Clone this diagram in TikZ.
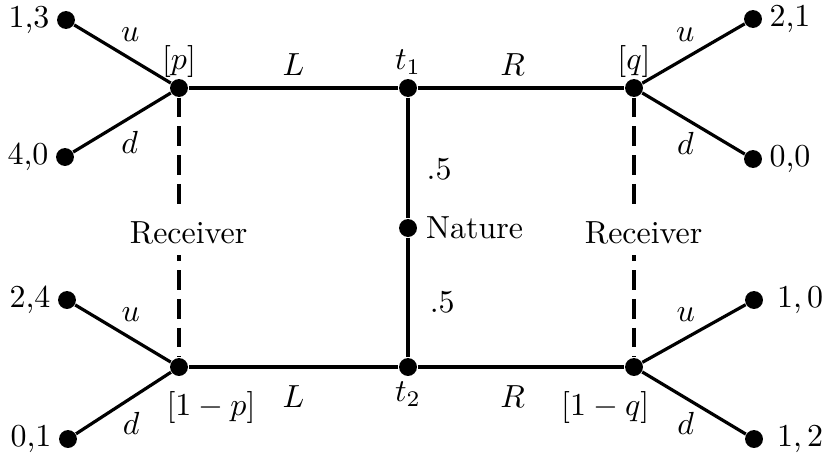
\documentclass[tikz,border=0pt]{standalone}
\usepackage{amsmath}
\usepackage{tikz}
\usetikzlibrary{positioning}

\begin{document}
\begin{tikzpicture}[
  x=0.011cm, y=-0.011cm,
  dot/.style={circle, fill=black, inner sep=0pt, minimum size=5.6pt},
  br/.style={line width=1pt},
  info/.style={line width=1.1pt, dash pattern=on 6.2pt off 2.8pt},
  every label/.style={inner sep=1pt},
  ulbl/.style={above=1.5pt, pos=.42},
  dlbl/.style={below=0.5pt, pos=.42},
]
\useasboundingbox (0,0) rectangle (830,459);
% sender types and nature
\node[dot, label={above:$t_1$}] (t1) at (408,88) {};
\node[dot, label={[label distance=1.5pt]right:Nature}] (nat) at (408,228) {};
\node[dot, label={[label distance=0.5pt]below:$t_2$}] (t2) at (408,367) {};
% receiver nodes
\node[dot, label={[label distance=-1pt]above:$[p]$}] (p1) at (179,88) {};
\node[dot, label={[label distance=-1pt]above:$[q]$}] (q1) at (634,88) {};
\node[dot, label={[xshift=10pt, yshift=-3.5pt]below:$[1-p]$}] (p2) at (179,367) {};
\node[dot, label={[xshift=-9pt, yshift=-3.5pt]below:$[1-q]$}] (q2) at (634,367) {};
% payoffs
\node[dot, label={[label distance=1pt]left:1,3}] (pu1) at (66,20) {};
\node[dot, label={[label distance=1pt]left:4,0}] (pd1) at (65,157) {};
\node[dot, label={[label distance=1pt]left:2,4}] (pu2) at (67,300) {};
\node[dot, label={[label distance=1pt]left:0,1}] (pd2) at (68,439) {};
\node[dot, label={[label distance=1pt]right:2,1}] (qu1) at (753,19) {};
\node[dot, label={[label distance=1pt]right:0,0}] (qd1) at (753,159) {};
\node[dot, label={[label distance=3pt]right:1,\,0}] (qu2) at (754,300) {};
\node[dot, label={[label distance=3pt]right:1,\,2}] (qd2) at (754,439) {};
% nature's move
\draw[br] (t1) -- node[right=2pt, pos=.59] {.5} (nat);
\draw[br] (nat) -- node[right=3pt, pos=.54] {.5} (t2);
% messages
\draw[br] (t1) -- node[above] {$L$} (p1);
\draw[br] (t1) -- node[above, pos=.46] {$R$} (q1);
\draw[br] (t2) -- node[below=2pt] {$L$} (p2);
\draw[br] (t2) -- node[below=2pt, pos=.46] {$R$} (q2);
% responses
\draw[br] (p1) -- node[ulbl] {$u$} (pu1);
\draw[br] (p1) -- node[dlbl] {$d$} (pd1);
\draw[br] (p2) -- node[ulbl] {$u$} (pu2);
\draw[br] (p2) -- node[dlbl] {$d$} (pd2);
\draw[br] (q1) -- node[ulbl] {$u$} (qu1);
\draw[br] (q1) -- node[dlbl] {$d$} (qd1);
\draw[br] (q2) -- node[ulbl] {$u$} (qu2);
\draw[br] (q2) -- node[dlbl] {$d$} (qd2);
% information sets
\draw[info] (p1) -- node[fill=white, xshift=3pt, pos=.52] {Receiver} (p2);
\draw[info] (q1) -- node[fill=white, xshift=3pt, pos=.52] {Receiver} (q2);
\end{tikzpicture}
\end{document}
